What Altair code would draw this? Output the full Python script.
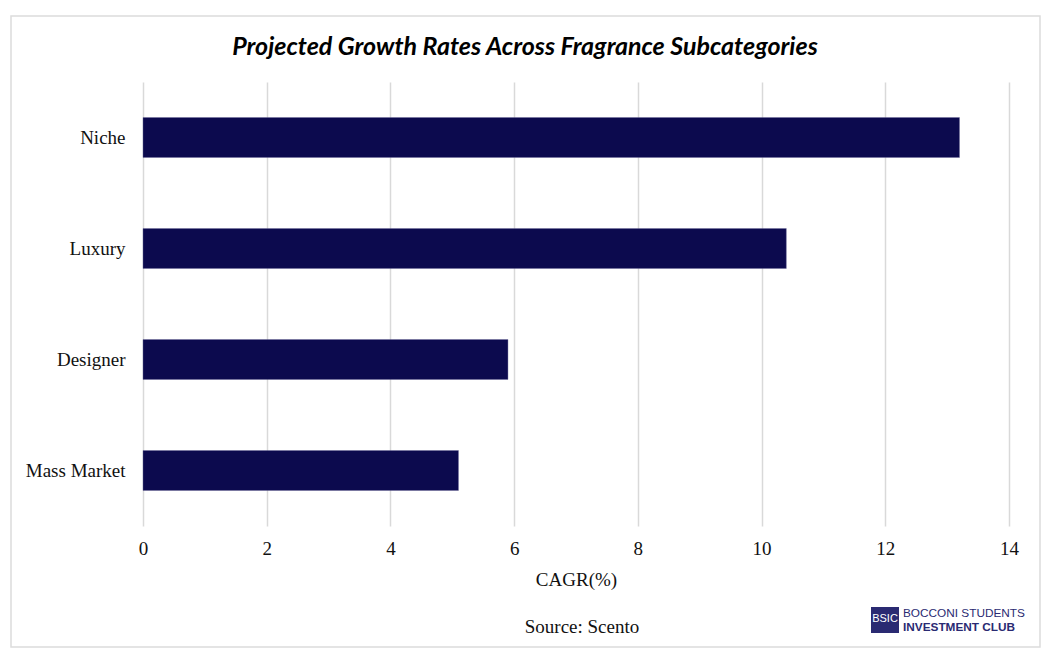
import altair as alt
import pandas as pd

categories = ["Niche", "Luxury", "Designer", "Mass Market"]
cagr = [13.2, 10.4, 5.9, 5.1]
x_ticks = [0, 2, 4, 6, 8, 10, 12, 14]

title_text = "Projected Growth Rates Across Fragrance Subcategories"
source_text = "Source: Scento"
x_title = "CAGR(%)"

df = pd.DataFrame({"category": categories, "cagr": cagr})
one = pd.DataFrame({"k": [0]})

W, H = 866, 444
NAVY = "#0c0a4e"
SERIF = "Liberation Serif"
FS = 19

frame = alt.Chart(one).mark_rect(fill="transparent", stroke="#dcdcdc", strokeWidth=1.5).encode(
    x=alt.value(-132), x2=alt.value(897), y=alt.value(-66), y2=alt.value(565)
)

bars = alt.Chart(df).mark_bar(color=NAVY, stroke="#6c6a99", strokeWidth=0.4).encode(
    x=alt.X("cagr:Q", scale=alt.Scale(domain=[0, 14], nice=False),
            axis=alt.Axis(values=x_ticks, title=x_title, grid=True, gridColor="#d9d9d9",
                          gridWidth=1.5, ticks=False, domain=False, labelFont=SERIF,
                          labelFontSize=FS, labelColor="#111111", labelPadding=13,
                          labelFlush=False,
                          titleFont=SERIF, titleFontSize=FS, titleFontWeight="normal",
                          titleColor="#111111", titlePadding=12)),
    y=alt.Y("category:N", sort=categories,
            scale=alt.Scale(paddingInner=0.64, paddingOuter=0.32),
            axis=alt.Axis(title=None, ticks=False, domain=False, labelFont=SERIF,
                          labelFontSize=FS, labelColor="#111111", labelPadding=18)),
)

title = alt.Chart(pd.DataFrame({"t": [title_text]})).mark_text(
    font="Lato", fontSize=25, fontWeight="bold", fontStyle="italic", color="#000000",
    align="center", baseline="middle"
).encode(x=alt.value(382), y=alt.value(-35), text="t:N")

source = alt.Chart(pd.DataFrame({"t": [source_text]})).mark_text(
    font=SERIF, fontSize=FS, color="#111111", align="center", baseline="middle"
).encode(x=alt.value(439), y=alt.value(545), text="t:N")

logo_box = alt.Chart(one).mark_rect(fill="#2a2a72").encode(
    x=alt.value(728), x2=alt.value(756), y=alt.value(525), y2=alt.value(551)
)
logo_bsic = alt.Chart(pd.DataFrame({"t": ["BSIC"]})).mark_text(
    font="Liberation Sans", fontSize=11, color="white", align="center", baseline="middle"
).encode(x=alt.value(742), y=alt.value(537), text="t:N")
logo_l1 = alt.Chart(pd.DataFrame({"t": ["BOCCONI STUDENTS"]})).mark_text(
    font="Liberation Sans", fontSize=11.8, color="#2a2a72", align="left", baseline="middle"
).encode(x=alt.value(760), y=alt.value(531), text="t:N")
logo_l2 = alt.Chart(pd.DataFrame({"t": ["INVESTMENT CLUB"]})).mark_text(
    font="Liberation Sans", fontSize=11.8, fontWeight="bold", color="#2a2a72", align="left",
    baseline="middle"
).encode(x=alt.value(760), y=alt.value(545), text="t:N")

chart = alt.layer(frame, bars, title, source, logo_box, logo_bsic, logo_l1, logo_l2).properties(
    width=W, height=H,
    autosize=alt.AutoSizeParams(type="none"),
    padding={"left": 135, "top": 74, "right": 40, "bottom": 130},
    background="white",
).configure_view(stroke=None)

chart.save("out.html", embed_options={"renderer": "svg", "actions": False})
